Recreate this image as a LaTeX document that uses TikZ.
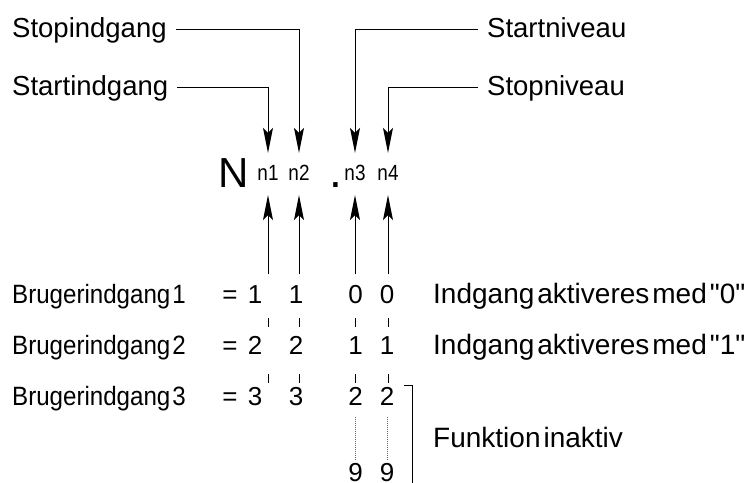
\documentclass[tikz,border=0pt]{standalone}
\usepackage{fontspec}
\setmainfont{Liberation Sans}[Ligatures=TeXOff]
\newfontfamily\condf{Liberation Sans}[FakeStretch=0.91, Ligatures=TeXOff]
\newfontfamily\narrowf{Liberation Sans}[FakeStretch=0.86, Ligatures=TeXOff]
\usetikzlibrary{arrows.meta}
\begin{document}
\begin{tikzpicture}[x=1pt,y=-1pt,
  toplabel/.style={font=\fontsize{27.5}{30}\selectfont, inner xsep=9pt, inner ysep=0pt, text height=19pt, text depth=2pt},
  nlabel/.style={font=\narrowf\fontsize{22}{24}\selectfont, inner sep=0pt, minimum height=42pt, text height=16pt, text depth=4pt},
  rowtext/.style={font=\condf\fontsize{26.5}{28}\selectfont, inner sep=0pt, anchor=base west},
  digit/.style={font=\fontsize{26}{28}\selectfont, inner sep=0pt, anchor=base},
  righttext/.style={font=\fontsize{28}{30}\selectfont, inner sep=0pt, anchor=base west},
  line/.style={line width=0.9pt, black},
  arr/.style={line, -{Stealth[length=25pt, width=10pt, inset=5pt]}},
  dotline/.style={line width=0.9pt, black!60, dash pattern=on 1pt off 1pt},
]
\useasboundingbox (0,0) rectangle (751,482);

% top labels
\node[toplabel, anchor=west] (stopin)   at (3,29)   {Stopindgang};
\node[toplabel, anchor=west] (startin)  at (3,87)   {Startindgang};
\node[toplabel, anchor=west] (startniv) at (478,29) {Startniveau};
\node[toplabel, anchor=west] (stopniv)  at (478,87) {Stopniveau};

% code line
\node[font=\fontsize{42}{44}\selectfont, inner sep=0pt, anchor=base] (N) at (233.5,187) {N};
\node[nlabel] (n1) at (268,174) {n1};
\node[nlabel] (n2) at (299,174) {n2};
\node[font=\fontsize{46}{48}\selectfont, inner sep=0pt, anchor=base] (dot) at (335.5,187) {.};
\node[nlabel] (n3) at (355,174) {n3};
\node[nlabel] (n4) at (388,174) {n4};

% top connectors
\draw[arr] (stopin.east) -| (n2.north);
\draw[arr] (startin.east) -| (n1.north);
\draw[arr] (startniv.west) -| (n3.north);
\draw[arr] (stopniv.west) -| (n4.north);

% bottom connectors
\coordinate (b1) at (268,274);
\coordinate (b2) at (299,274);
\coordinate (b3) at (355,274);
\coordinate (b4) at (388,274);
\draw[arr] (b1) -- (n1.south);
\draw[arr] (b2) -- (n2.south);
\draw[arr] (b3) -- (n3.south);
\draw[arr] (b4) -- (n4.south);

% ticks between rows
\foreach \cx/\k in {268/1,299/2,355/3,388/4}{
  \coordinate (ta\k) at (\cx,318);
  \coordinate (tb\k) at (\cx,327);
  \coordinate (tc\k) at (\cx,374);
  \coordinate (td\k) at (\cx,383);
  \draw[line] (ta\k) -- (tb\k);
  \draw[line] (tc\k) -- (td\k);
}

% rows
\node[rowtext] (bi1) at (12,303) {Brugerindgang\hspace{2pt}1};
\node[digit] (eq1) at (230,303) {=};
\node[digit] (r1c1) at (255,303) {1};
\node[digit] (r1c2) at (296,303) {1};
\node[digit] (r1c3) at (355.5,303) {0};
\node[digit] (r1c4) at (387,303) {0};

\node[rowtext] (bi2) at (12,354) {Brugerindgang\hspace{2pt}2};
\node[digit] (eq2) at (230,354) {=};
\node[digit] (r2c1) at (255,354) {2};
\node[digit] (r2c2) at (296,354) {2};
\node[digit] (r2c3) at (355.5,354) {1};
\node[digit] (r2c4) at (387,354) {1};

\node[rowtext] (bi3) at (12,405) {Brugerindgang\hspace{2pt}3};
\node[digit] (eq3) at (230,405) {=};
\node[digit] (r3c1) at (255,405) {3};
\node[digit] (r3c2) at (296,405) {3};
\node[digit] (r3c3) at (355.5,405) {2};
\node[digit] (r3c4) at (387,405) {2};

\node[digit] (r4c3) at (355.5,481) {9};
\node[digit] (r4c4) at (387,481) {9};

\draw[dotline, shorten <=12pt, shorten >=3pt] (r3c3.south) -- (r4c3.north);
\draw[dotline, shorten <=12pt, shorten >=3pt] (r3c4.south) -- (r4c4.north);

% right texts
\node[righttext] (act0) at (433,303) {Indgang\hspace{3pt}aktiveres\hspace{3pt}med\hspace{3pt}"0"};
\node[righttext] (act1) at (433,354) {Indgang\hspace{3pt}aktiveres\hspace{3pt}med\hspace{3pt}"1"};
\node[righttext] (inakt) at (433,447) {Funktion\hspace{3pt}inaktiv};

% bracket
\coordinate (br1) at (404,385);
\coordinate (br2) at (412,385);
\coordinate (br3) at (412,484);
\draw[line] (br1) -- (br2) -- (br3);
\end{tikzpicture}
\end{document}
